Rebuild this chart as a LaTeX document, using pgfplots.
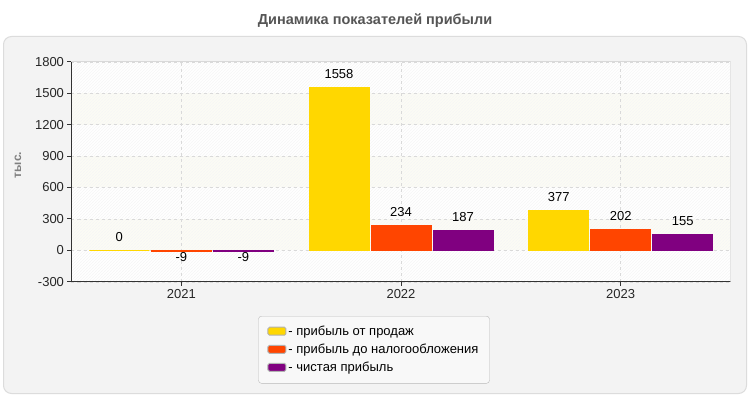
\documentclass[border=0pt]{standalone}
\usepackage{pgfplots}
\pgfplotsset{compat=1.18}
\usepackage{fontspec}
\setmainfont{Liberation Sans}
\usetikzlibrary{patterns}
\definecolor{cA}{HTML}{FFD700}
\definecolor{cB}{HTML}{FF4500}
\definecolor{cC}{HTML}{800080}
\definecolor{panel}{HTML}{F3F3F3}
\definecolor{panelborder}{HTML}{DCDCDC}
\definecolor{band}{HTML}{FCFCF4}
\definecolor{titlegray}{HTML}{555555}
\definecolor{legfill}{HTML}{F8F8F8}
\begin{document}
\begin{tikzpicture}
\useasboundingbox (0pt,0pt) rectangle (750pt,400pt);
\fill[white] (0pt,0pt) rectangle (750pt,400pt);
\filldraw[fill=panel, draw=panelborder, line width=1pt, rounded corners=8pt] (3.5pt,6.5pt) rectangle (746.5pt,363.5pt);
% plot area background (decoration)
\fill[white] (71.5pt,118.3pt) rectangle (730.5pt,338.3pt);
\fill[band] (71.5pt,149.73pt) rectangle (730.5pt,181.16pt);
\fill[band] (71.5pt,212.59pt) rectangle (730.5pt,244.01pt);
\fill[band] (71.5pt,275.44pt) rectangle (730.5pt,306.87pt);
\fill[pattern=north east lines, pattern color=gray!7] (71.5pt,118.3pt) rectangle (730.5pt,338.3pt);
\node[font=\bfseries\fontsize{14.5}{16}\selectfont, text=titlegray] at (375pt,379pt) {Динамика показателей прибыли};
\node[rotate=90, font=\bfseries\fontsize{12}{14}\selectfont, text=gray] at (18pt,235pt) {тыс.};
\begin{axis}[
  at={(71.5pt,118.3pt)}, anchor=south west,
  scale only axis, width=659pt, height=220pt,
  xmin=-0.5, xmax=2.5, ymin=-300, ymax=1800,
  ytick={-300,0,300,600,900,1200,1500,1800},
  xtick={0,1,2}, xticklabels={2021,2022,2023},
  ybar=2pt, bar width=60pt,
  axis lines*=left, axis line style={draw=black!80, line width=0.8pt, -},
  tick align=outside, major tick length=4pt, tick style={draw=black!80, line width=0.8pt},
  grid=major, major grid style={dashed, draw=gray!30},
  ticklabel style={font=\fontsize{13}{15}\selectfont, text=black!85},
  /pgf/number format/assume math mode=true,
  /pgf/number format/1000 sep={},
  visualization depends on=y \as \rawy,
  nodes near coords,
  every node near coord/.append style={font=\fontsize{13}{15}\selectfont, text=black,
    yshift={ifthenelse(\rawy<0,3,5)}},
  legend style={at={(0.459,-0.156)}, anchor=north, draw=gray!55, fill=legfill,
    rounded corners=3pt, font=\fontsize{13}{15}\selectfont, row sep=3pt,
    inner xsep=9pt, inner ysep=8pt},
  legend cell align=left,
]
\addplot[fill=cA, draw=cA, line width=1pt,
  legend image code/.code={\draw[fill=cA, draw=gray!60, rounded corners=1.5pt] (0pt,-3.5pt) rectangle (18pt,4.5pt);}]
  coordinates {(0,0) (1,1558) (2,377)};
\addlegendentry{- прибыль от продаж}
\addplot[fill=cB, draw=cB, line width=1pt,
  legend image code/.code={\draw[fill=cB, draw=gray!60, rounded corners=1.5pt] (0pt,-3.5pt) rectangle (18pt,4.5pt);}]
  coordinates {(0,-9) (1,234) (2,202)};
\addlegendentry{- прибыль до налогообложения}
\addplot[fill=cC, draw=cC, line width=1pt,
  legend image code/.code={\draw[fill=cC, draw=gray!60, rounded corners=1.5pt] (0pt,-3.5pt) rectangle (18pt,4.5pt);}]
  coordinates {(0,-9) (1,187) (2,155)};
\addlegendentry{- чистая прибыль}
\draw[gray!30, line width=0.8pt] (rel axis cs:0,1) -- (rel axis cs:1,1) -- (rel axis cs:1,0);
\end{axis}
\end{tikzpicture}
\end{document}
